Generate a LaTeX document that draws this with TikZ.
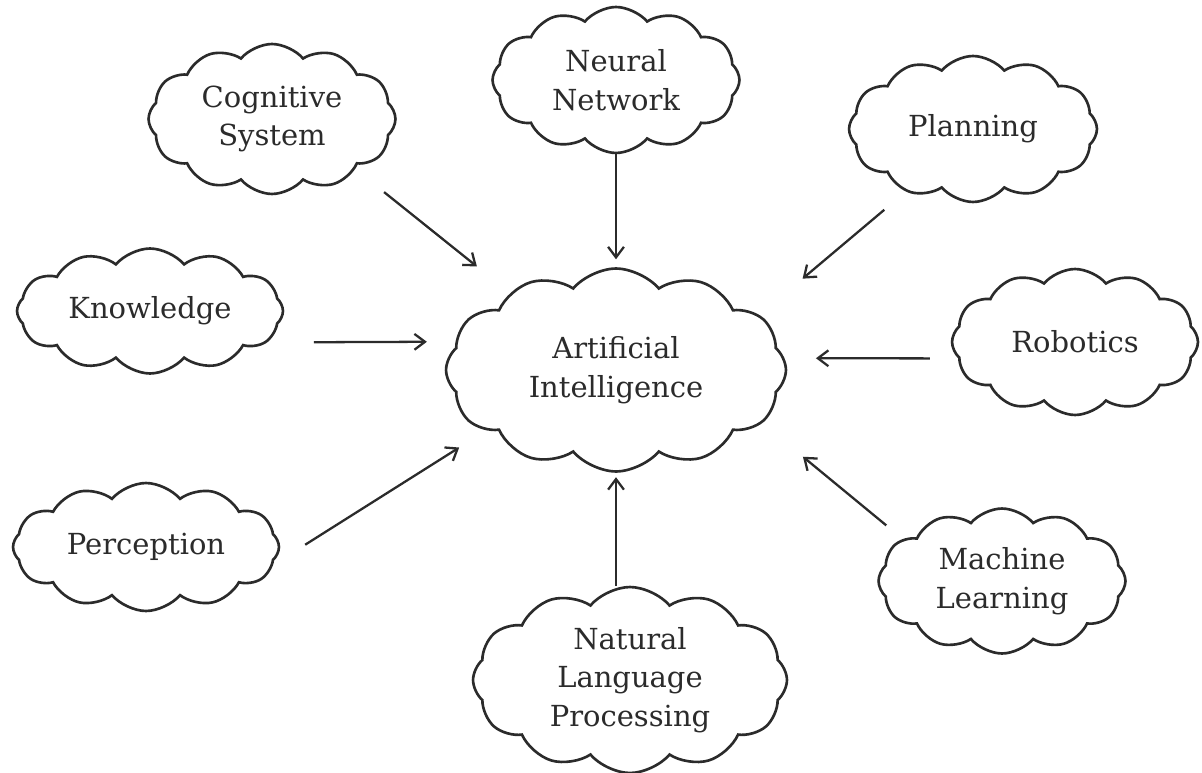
\documentclass[tikz,border=0pt]{standalone}
\usepackage{fontspec}
\setmainfont{DejaVu Serif}
\usetikzlibrary{shapes.symbols,arrows.meta}
\definecolor{ink}{HTML}{2B2B2B}
\begin{document}
\begin{tikzpicture}[x=0.02cm,y=-0.02cm,
    idea/.style={cloud,cloud puffs=12,cloud puff arc=100,cloud ignores aspect,draw=ink,line width=1.5pt,text=ink,align=center,inner sep=0pt,font=\fontsize{16.5}{22}\selectfont},
    feed/.style={draw=ink,line width=1.3pt,-{Straight Barb[length=6pt,width=9pt]}}]
    \useasboundingbox (0,0) rectangle (1202,773);
    \node[idea,minimum width=6.8cm,minimum height=4.06cm] (ai) at (616,370) {Artificial\\Intelligence};
    \node[idea,minimum width=4.94cm,minimum height=3.0cm] (cog) at (272,119) {Cognitive\\System};
    \node[idea,minimum width=4.94cm,minimum height=2.92cm] (neural) at (616,80) {Neural\\Network};
    \node[idea,minimum width=4.96cm,minimum height=2.92cm] (plan) at (973,129) {Planning};
    \node[idea,minimum width=5.32cm,minimum height=2.5cm] (know) at (150,311) {Knowledge};
    \node[idea,minimum width=4.92cm,minimum height=2.92cm] (robo) at (1075,342) {Robotics};
    \node[idea,minimum width=5.32cm,minimum height=2.56cm] (perc) at (146,547) {Perception};
    \node[idea,minimum width=4.94cm,minimum height=2.9cm] (ml) at (1002,581) {Machine\\Learning};
    \node[idea,minimum width=6.28cm,minimum height=3.72cm] (nlp) at (630,680) {Natural\\Language\\Processing};
    \draw[feed,shorten <=21pt,shorten >=24pt] (cog.-31) -- (ai.144);
    \draw[feed,shorten >=4.5pt] (neural.south) -- (ai.north);
    \draw[feed,shorten <=16pt,shorten >=32pt] (plan.223) -- (ai.21);
    \draw[feed,shorten <=26.6pt,shorten >=16.2pt] (know.-15) -- (ai.170);
    \draw[feed,shorten <=16pt,shorten >=17.7pt] (robo.188) -- (ai.4);
    \draw[feed,shorten <=21.5pt,shorten >=18pt] (perc.-8) -- (ai.205);
    \draw[feed,shorten <=12pt,shorten >=30pt] (ml.157) -- (ai.-20);
    \draw[feed,shorten >=2.5pt] (ai.south |- nlp.north) -- (ai.south);
\end{tikzpicture}
\end{document}
